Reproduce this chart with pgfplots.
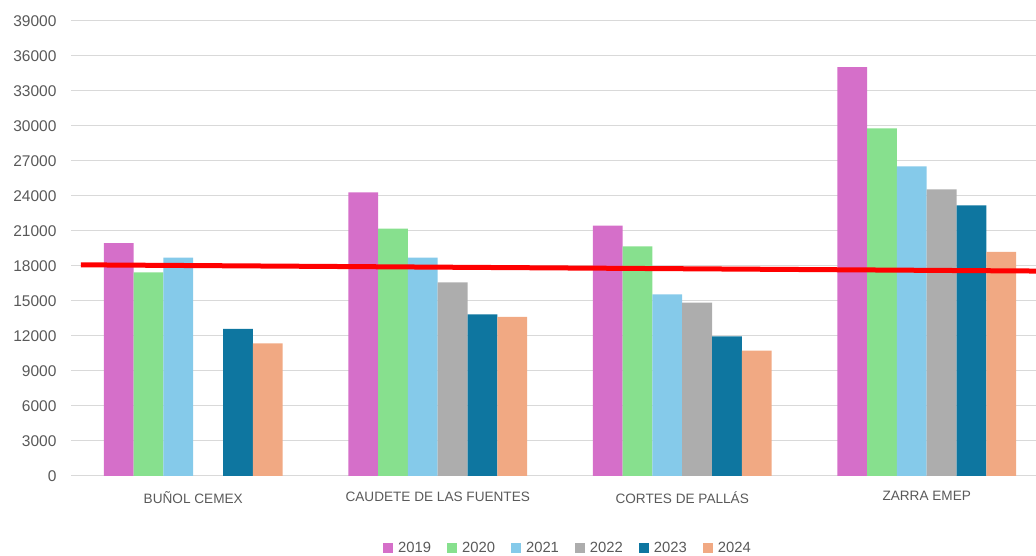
\documentclass[border=0pt]{standalone}
\usepackage{pgfplots}
\pgfplotsset{compat=1.18}
\usepackage{fontspec}
\setmainfont{Liberation Sans}
\definecolor{c19}{HTML}{D56FC9}
\definecolor{c20}{HTML}{87E08E}
\definecolor{c21}{HTML}{85CAEA}
\definecolor{c22}{HTML}{ADADAD}
\definecolor{c23}{HTML}{0E76A0}
\definecolor{c24}{HTML}{F1A983}
\definecolor{txt}{HTML}{595959}
\definecolor{grd}{HTML}{D9D9D9}
\begin{document}
\begin{tikzpicture}[x=1pt,y=1pt]
\useasboundingbox (0,0) rectangle (1036,556);
\begin{axis}[
  at={(71pt,80pt)}, anchor=south west,
  scale only axis, width=965pt, height=455pt,
  ybar=0pt, bar width=29.8pt,
  every axis plot/.append style={draw=none, legend image code/.code={\fill[##1] (0pt,-5pt) rectangle (10pt,5pt);}},
  xmin=-0.5, xmax=3.447,
  ymin=0, ymax=39000,
  ytick distance=3000,
  xtick={0,1,2,3},
  xticklabels={BUÑOL CEMEX, CAUDETE DE LAS FUENTES, CORTES DE PALLÁS, ZARRA EMEP},
  scaled y ticks=false,
  /pgf/number format/assume math mode=true,
  yticklabel={\pgfmathprintnumber[fixed,1000 sep={}]{\tick}},
  ymajorgrids, major grid style={color=grd, line width=1pt},
  axis line style={draw=none},
  major tick length=0pt,
  yticklabel style={font=\fontsize{15.5}{17}\selectfont, text=txt, xshift=-11pt},
  xticklabel style={font=\fontsize{13.6}{15}\selectfont, text=txt, yshift=-12pt},
  legend columns=6,
  legend style={at={(0.515,-0.158)}, anchor=center, draw=none, fill=none,
    font=\fontsize{14.8}{16}\selectfont, text=txt,
    /tikz/every even column/.append style={column sep=14pt},
    /tikz/every odd column/.append style={column sep=3pt}},
  clip=true,
]
\addplot[fill=c19] coordinates {(0,19950) (1,24300) (2,21450) (3,35050)};
\addplot[fill=c20] coordinates {(0,17460) (1,21200) (2,19680) (3,29800)};
\addplot[fill=c21] coordinates {(0,18720) (1,18720) (2,15570) (3,26540)};
\addplot[fill=c22] coordinates {(1,16600) (2,14870) (3,24570)};
\addplot[fill=c23] coordinates {(0,12600) (1,13860) (2,11970) (3,23200)};
\addplot[fill=c24] coordinates {(0,11370) (1,13630) (2,10740) (3,19200)};
\legend{2019,2020,2021,2022,2023,2024}
\addplot[sharp plot, draw=red, fill=none, line width=5pt, forget plot] coordinates {(-0.46,18100) (3.5,17560)};
\end{axis}
\end{tikzpicture}
\end{document}
